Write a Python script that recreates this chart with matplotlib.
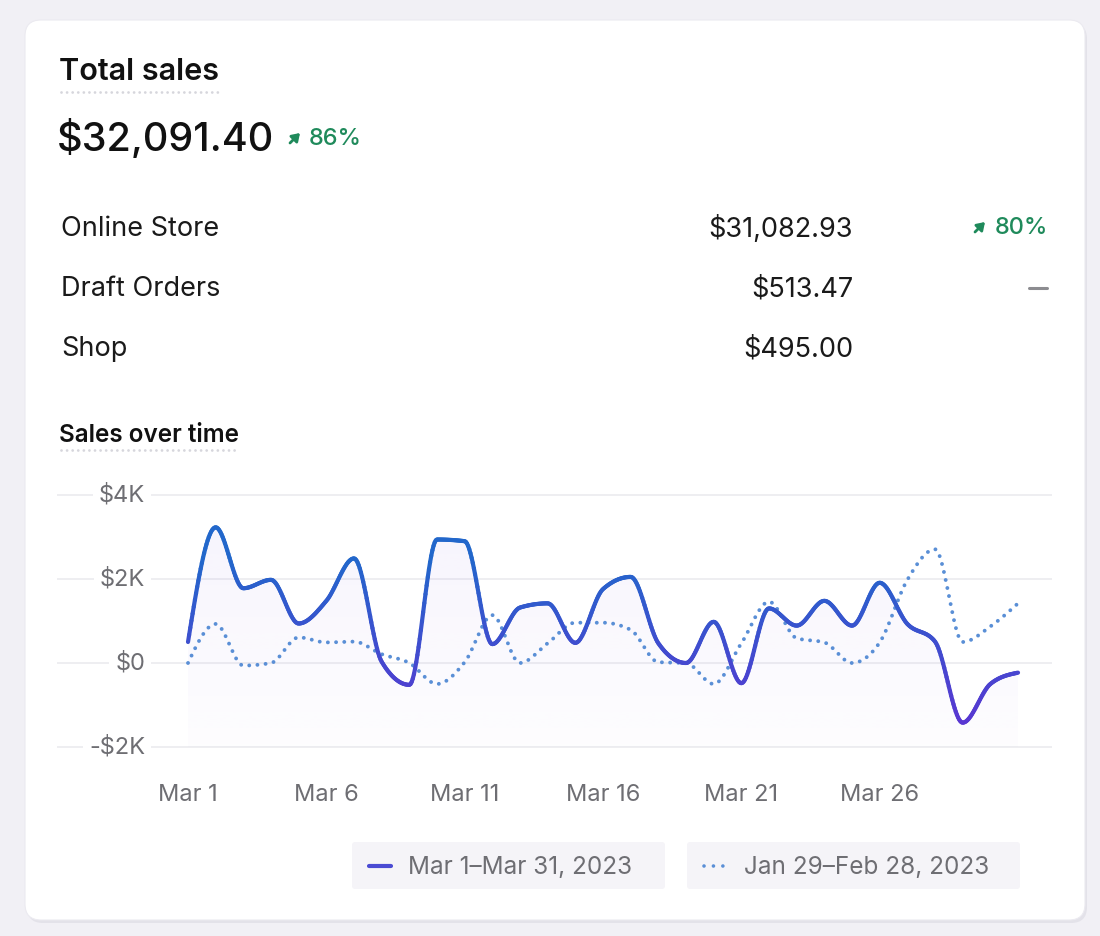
import numpy as np
import matplotlib

matplotlib.use("Agg")
import matplotlib.pyplot as plt
from matplotlib.collections import LineCollection
from matplotlib.colors import LinearSegmentedColormap
from matplotlib.patches import FancyBboxPatch, Polygon

# ---- data ----
days = list(range(1, 32))
current = [500, 3230, 1780, 1980, 940, 1480, 2490, 30, -520, 2940,
           2900, 450, 1320, 1420, 480, 1760, 2050, 470, 0, 980,
           -480, 1300, 890, 1480, 890, 1910, 930, 510, -1420, -500,
           -230]
previous = [0, 930, -60, 0, 610, 490, 510, 210, 0, -500,
            20, 1140, 0, 470, 960, 960, 790, 20, 0, -500,
            470, 1460, 590, 490, 0, 490, 1980, 2710, 500, 870,
            1420]
tick_days = [1, 6, 11, 16, 21, 26]
tick_labels = ["Mar 1", "Mar 6", "Mar 11", "Mar 16", "Mar 21", "Mar 26"]
y_ticks = [-2000, 0, 2000, 4000]
y_labels = ["-$2K", "$0", "$2K", "$4K"]

channels = ["Online Store", "Draft Orders", "Shop"]
channel_sales = ["$31,082.93", "$513.47", "$495.00"]
channel_change = ["80%", "-", None]   # "-" = no change shown as a grey dash
total_sales = "$32,091.40"
total_change = "86%"
legend_labels = ["Mar 1\u2013Mar 31, 2023", "Jan 29\u2013Feb 28, 2023"]

FONT = ["Inter", "DejaVu Sans"]
GREEN = "#1f8a5b"
GREY = "#6e6e73"
BLUE = "#2267cb"
PURPLE = "#5a36d2"
DOT = "#5a8fd6"


def monotone_x(x, y, n=24):
    """Monotone cubic curve through the points (same idea as d3 curveMonotoneX)."""
    x = np.asarray(x, float)
    y = np.asarray(y, float)
    h = np.diff(x)
    s = np.diff(y) / h
    t = np.zeros_like(y)
    for i in range(1, len(y) - 1):
        s0, s1 = s[i - 1], s[i]
        p = (s0 * h[i] + s1 * h[i - 1]) / (h[i - 1] + h[i])
        t[i] = (np.sign(s0) + np.sign(s1)) * min(abs(s0), abs(s1), 0.5 * abs(p))
    t[0] = (3 * s[0] - t[1]) / 2
    t[-1] = (3 * s[-1] - t[-2]) / 2
    xs, ys = [], []
    for i in range(len(h)):
        u = np.linspace(0, 1, n, endpoint=False)
        h00 = 2 * u**3 - 3 * u**2 + 1
        h10 = u**3 - 2 * u**2 + u
        h01 = -2 * u**3 + 3 * u**2
        h11 = u**3 - u**2
        xs.append(x[i] + u * h[i])
        ys.append(h00 * y[i] + h10 * h[i] * t[i] + h01 * y[i + 1] + h11 * h[i] * t[i + 1])
    xs.append([x[-1]])
    ys.append([y[-1]])
    return np.concatenate(xs), np.concatenate(ys)


def dotted_rule(ax, x0, x1, y):
    ax.plot([x0, x1], [y, y], color="#d6d6dc", lw=2.0, ls=(0, (0.01, 2.0)),
            dash_capstyle="round")


def arrow_up(ax, x, y, size=5, color=GREEN):
    # small north-east arrow icon
    ax.annotate("", xy=(x + size, y - size), xytext=(x - size, y + size),
                arrowprops=dict(arrowstyle="-|>,head_length=0.45,head_width=0.3",
                                color=color, lw=2.0, shrinkA=0, shrinkB=0))


W, H = 1100, 936
fig = plt.figure(figsize=(W / 100, H / 100), dpi=100)
fig.patch.set_facecolor("#f1f0f5")

# ---- card and text (pixel coordinates) ----
bg = fig.add_axes([0, 0, 1, 1])
bg.set_xlim(0, W)
bg.set_ylim(H, 0)
bg.axis("off")
bg.add_patch(FancyBboxPatch((27, 23), 1060, 900, boxstyle="round,pad=0,rounding_size=16",
                            fc="#e3e2e9", ec="none"))
bg.add_patch(FancyBboxPatch((25, 20), 1060, 900, boxstyle="round,pad=0,rounding_size=16",
                            fc="white", ec="#ebeaf0", lw=0.8))

bg.text(59, 72.5, "Total sales", fontsize=22, fontweight="semibold", family=FONT,
        color="#111111", va="center")
dotted_rule(bg, 61, 219, 92)
bg.text(57, 139, total_sales, fontsize=28.5, fontweight="medium", family=FONT,
        color="#111111", va="center")
arrow_up(bg, 295, 138)
bg.text(309, 139, total_change, fontsize=17, fontweight="medium", family=FONT,
        color=GREEN, va="center")

row_y = [227, 288, 348]
for name, amount, change, yy in zip(channels, channel_sales, channel_change, row_y):
    bg.text(61, yy + 1.5, name, fontsize=19.5, family=FONT, color="#1a1a1a", va="center")
    bg.text(853, yy + 1.5, amount, fontsize=19.5, family=FONT, color="#1a1a1a",
            va="center", ha="right")
    if change == "-":
        bg.plot([1029, 1047], [yy, yy], color="#8c8c90", lw=2.2, solid_capstyle="round")
    elif change:
        bg.text(1048, yy + 1, change, fontsize=17, fontweight="medium", family=FONT,
                color=GREEN, va="center", ha="right")
        arrow_up(bg, 980, yy)

bg.text(59, 436, "Sales over time", fontsize=17.5, fontweight="semibold", family=FONT,
        color="#111111", va="center")
dotted_rule(bg, 61, 239, 450)

# legend chips
bg.add_patch(FancyBboxPatch((352, 842), 313, 47, boxstyle="round,pad=0,rounding_size=3",
                            fc="#f5f4f8", ec="none"))
bg.add_patch(FancyBboxPatch((687, 842), 333, 47, boxstyle="round,pad=0,rounding_size=3",
                            fc="#f5f4f8", ec="none"))
bg.plot([369, 391], [866, 866], color="#4a4bd3", lw=3, solid_capstyle="round")
bg.plot([704, 726], [866, 866], color=DOT, lw=2.6, ls=(0, (0.01, 2.6)),
        dash_capstyle="round")
bg.text(408, 867, legend_labels[0], fontsize=17.5, family=FONT, color=GREY, va="center")
bg.text(744, 867, legend_labels[1], fontsize=17.5, family=FONT, color=GREY, va="center")

# ---- chart axes ----
px_left, px_right, px_top, px_bot = 57, 1052, 480, 760
ax = fig.add_axes([px_left / W, 1 - px_bot / H, (px_right - px_left) / W, (px_bot - px_top) / H])
ax.set_xlim(-3.735, 32.228)
ax.set_ylim(-2309.5, 4357.1)
ax.set_facecolor("none")
for sp in ax.spines.values():
    sp.set_visible(False)
ax.set_yticks([])
ax.set_xticks(tick_days)
ax.set_xticklabels(tick_labels, fontsize=17, family=FONT, color=GREY)
ax.tick_params(axis="x", length=0, pad=17)

for v, lab in zip(y_ticks, y_labels):
    ax.axhline(v, color="#ebebef", lw=1.2, zorder=0)
    ax.text(-0.554, v, lab, fontsize=17, family=FONT, color=GREY, ha="right", va="center",
            zorder=1, bbox=dict(fc="white", ec="none", pad=4))

cx, cy = monotone_x(days, current)
px, py = monotone_x(days, previous)

# faint area under the current line
poly = Polygon(np.column_stack([np.r_[cx, cx[-1], cx[0]], np.r_[cy, -2000, -2000]]),
               closed=True, fc="none", ec="none")
ax.add_patch(poly)
grad = np.linspace(0.07, 0.015, 256).reshape(-1, 1)
tint = np.zeros((256, 1, 4))
tint[..., 0], tint[..., 1], tint[..., 2] = 0.55, 0.4, 0.9
tint[..., 3] = grad
img = ax.imshow(tint, extent=[1, 31, -2000, 3300], aspect="auto", origin="upper",
                zorder=1, interpolation="bilinear")
img.set_clip_path(poly)

ax.plot(px, py, color=DOT, lw=2.8, ls=(0, (0.01, 2.1)), dash_capstyle="round", zorder=2)

cmap = LinearSegmentedColormap.from_list("sales", [PURPLE, BLUE])
pts = np.column_stack([cx, cy]).reshape(-1, 1, 2)
segs = np.concatenate([pts[:-1], pts[1:]], axis=1)
lc = LineCollection(segs, cmap=cmap, norm=plt.Normalize(-1500, 2500), lw=3.0,
                    capstyle="round", joinstyle="round", zorder=3)
lc.set_array((cy[:-1] + cy[1:]) / 2)
ax.add_collection(lc)

fig.savefig("out.png", dpi=100)
